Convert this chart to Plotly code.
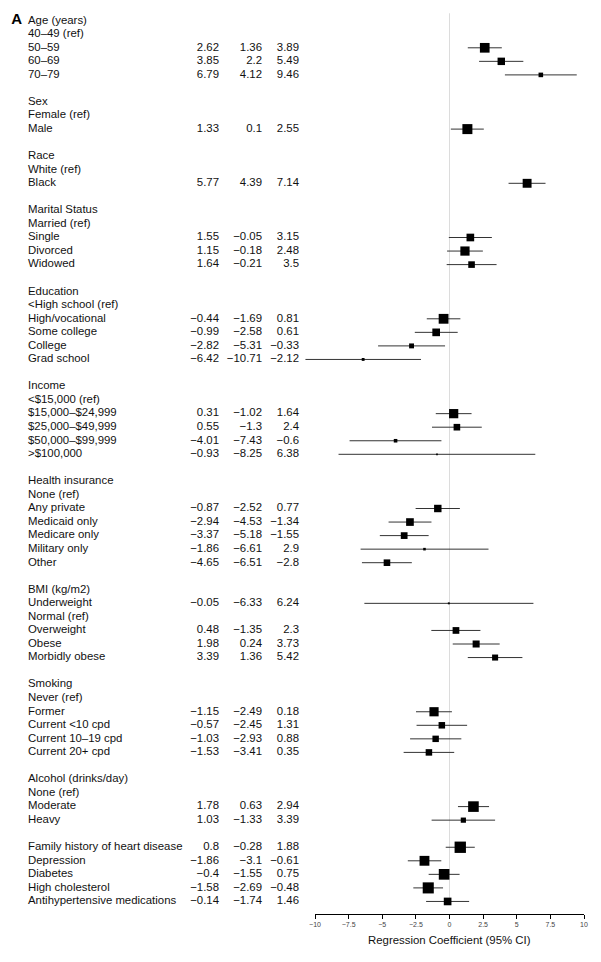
import plotly.graph_objects as go

# ---------------- data ----------------
row_labels = [
    "Age (years)", "40–49 (ref)", "50–59", "60–69", "70–79", "",
    "Sex", "Female (ref)", "Male", "",
    "Race", "White (ref)", "Black", "",
    "Marital Status", "Married (ref)", "Single", "Divorced", "Widowed", "",
    "Education", "<High school (ref)", "High/vocational", "Some college", "College", "Grad school", "",
    "Income", "<$15,000 (ref)", "$15,000–$24,999", "$25,000–$49,999", "$50,000–$99,999", ">$100,000", "",
    "Health insurance", "None (ref)", "Any private", "Medicaid only", "Medicare only", "Military only", "Other", "",
    "BMI (kg/m2)", "Underweight", "Normal (ref)", "Overweight", "Obese", "Morbidly obese", "",
    "Smoking", "Never (ref)", "Former", "Current <10 cpd", "Current 10–19 cpd", "Current 20+ cpd", "",
    "Alcohol (drinks/day)", "None (ref)", "Moderate", "Heavy", "",
    "Family history of heart disease", "Depression", "Diabetes", "High cholesterol",
    "Antihypertensive medications",
]
N = None
estimate = [
    N, N, 2.62, 3.85, 6.79, N,
    N, N, 1.33, N,
    N, N, 5.77, N,
    N, N, 1.55, 1.15, 1.64, N,
    N, N, -0.44, -0.99, -2.82, -6.42, N,
    N, N, 0.31, 0.55, -4.01, -0.93, N,
    N, N, -0.87, -2.94, -3.37, -1.86, -4.65, N,
    N, -0.05, N, 0.48, 1.98, 3.39, N,
    N, N, -1.15, -0.57, -1.03, -1.53, N,
    N, N, 1.78, 1.03, N,
    0.8, -1.86, -0.4, -1.58, -0.14,
]
lower = [
    N, N, 1.36, 2.2, 4.12, N,
    N, N, 0.1, N,
    N, N, 4.39, N,
    N, N, -0.05, -0.18, -0.21, N,
    N, N, -1.69, -2.58, -5.31, -10.71, N,
    N, N, -1.02, -1.3, -7.43, -8.25, N,
    N, N, -2.52, -4.53, -5.18, -6.61, -6.51, N,
    N, -6.33, N, -1.35, 0.24, 1.36, N,
    N, N, -2.49, -2.45, -2.93, -3.41, N,
    N, N, 0.63, -1.33, N,
    -0.28, -3.1, -1.55, -2.69, -1.74,
]
upper = [
    N, N, 3.89, 5.49, 9.46, N,
    N, N, 2.55, N,
    N, N, 7.14, N,
    N, N, 3.15, 2.48, 3.5, N,
    N, N, 0.81, 0.61, -0.33, -2.12, N,
    N, N, 1.64, 2.4, -0.6, 6.38, N,
    N, N, 0.77, -1.34, -1.55, 2.9, -2.8, N,
    N, 6.24, N, 2.3, 3.73, 5.42, N,
    N, N, 0.18, 1.31, 0.88, 0.35, N,
    N, N, 2.94, 3.39, N,
    1.88, -0.61, 0.75, -0.48, 1.46,
]
tick_values = [-10, -7.5, -5, -2.5, 0, 2.5, 5, 7.5, 10]
tick_labels = ["−10", "−7.5", "−5", "−2.5", "0", "2.5", "5", "7.5", "10"]
x_title = "Regression Coefficient (95% CI)"
panel_label = "A"

# ---------------- layout helpers ----------------
OFF = 8  # default page body margin
W, H = 601 - OFF, 962 - OFF
rows = list(range(1, len(row_labels) + 1))
row0_px, row_step = 20.7 - OFF, 13.55
axis_px = 914 - OFF
y_top = 1 - row0_px / row_step
y_bot = 1 + (axis_px - row0_px) / row_step

# plotting axis geometry (px, figure coordinates)
ax_l, ax_r = 315 - OFF, 584 - OFF
scale = (ax_r - ax_l) / 20.0
dat_l, dat_r = 298 - OFF, W
dat_range = [-10 - (ax_l - dat_l) / scale, 10 + (dat_r - ax_r) / scale]
txt_r = 305 - OFF  # right edge of the text area

FONT = "Liberation Sans, Arial, Helvetica, sans-serif"
FS = 11.4


def fmt(v):
    if v is None:
        return ""
    return ("%g" % v).replace("-", "−")


fig = go.Figure()

# text columns (on a px-like text axis x2)
fig.add_trace(go.Scatter(
    x=[28 - OFF] * len(rows), y=rows, text=row_labels, mode="text",
    textposition="middle right", xaxis="x2", yaxis="y", cliponaxis=False,
    textfont=dict(family=FONT, size=FS, color="#111"), hoverinfo="skip", showlegend=False))
for col_x, vals in [(219, estimate), (262, lower), (299, upper)]:
    fig.add_trace(go.Scatter(
        x=[col_x - OFF] * len(rows), y=rows, text=[fmt(v) for v in vals], mode="text",
        textposition="middle left", xaxis="x2", yaxis="y", cliponaxis=False,
        textfont=dict(family=FONT, size=FS, color="#111"), hoverinfo="skip", showlegend=False))
fig.add_trace(go.Scatter(
    x=[22 - OFF], y=[1], text=["<b>" + panel_label + "</b>"], mode="text",
    textposition="middle left", xaxis="x2", yaxis="y", cliponaxis=False,
    textfont=dict(family=FONT, size=15, color="#000"), hoverinfo="skip", showlegend=False))

# zero reference line
fig.add_trace(go.Scatter(
    x=[0, 0], y=[0.45, 66.1], mode="lines", line=dict(color="#dcdcdc", width=1),
    xaxis="x", yaxis="y", hoverinfo="skip", showlegend=False))

# CI lines
cx, cy = [], []
for r, lo, hi in zip(rows, lower, upper):
    if lo is None:
        continue
    cx += [lo, hi, None]
    cy += [r, r, None]
fig.add_trace(go.Scatter(
    x=cx, y=cy, mode="lines", line=dict(color="#333", width=1),
    xaxis="x", yaxis="y", hoverinfo="skip", showlegend=False))

# squares (size inversely proportional to CI width)
px_, py_, ps_ = [], [], []
for r, e, lo, hi in zip(rows, estimate, lower, upper):
    if e is None:
        continue
    px_.append(e)
    py_.append(r)
    ps_.append(24.5 / (hi - lo))
fig.add_trace(go.Scatter(
    x=px_, y=py_, mode="markers",
    marker=dict(symbol="square", size=ps_, color="#000", opacity=1, line=dict(width=0)),
    xaxis="x", yaxis="y", cliponaxis=False, hoverinfo="skip", showlegend=False))

# dummy trace for the visible axis
fig.add_trace(go.Scatter(x=[None], y=[None], xaxis="x3", yaxis="y",
                         showlegend=False, hoverinfo="skip"))

ydom = [(H - axis_px) / H, 1]
fig.update_layout(
    width=W, height=H, margin=dict(l=0, r=0, t=0, b=0),
    paper_bgcolor="white", plot_bgcolor="rgba(0,0,0,0)",
    showlegend=False,
    xaxis=dict(domain=[dat_l / W, dat_r / W], range=dat_range, visible=False,
               anchor="y", fixedrange=True),
    xaxis2=dict(domain=[0, txt_r / W], range=[0, txt_r], visible=False,
                anchor="y", fixedrange=True),
    xaxis3=dict(domain=[ax_l / W, ax_r / W], range=[-10, 10], anchor="y",
                showline=True, linecolor="#000", linewidth=1,
                ticks="outside", ticklen=4, tickwidth=1, tickcolor="#000",
                tickmode="array", tickvals=tick_values, ticktext=tick_labels,
                tickfont=dict(family=FONT, size=7, color="#444"),
                showgrid=False, zeroline=False, fixedrange=True, automargin=False),
    yaxis=dict(domain=ydom, range=[y_bot, y_top], visible=False, fixedrange=True),
    annotations=[dict(text=x_title, x=(ax_l + ax_r) / 2 / W, y=(H - (940 - OFF)) / H,
                      xref="paper", yref="paper", showarrow=False,
                      xanchor="center", yanchor="middle",
                      font=dict(family=FONT, size=FS, color="#111"))],
)

fig.write_html("out.html")
